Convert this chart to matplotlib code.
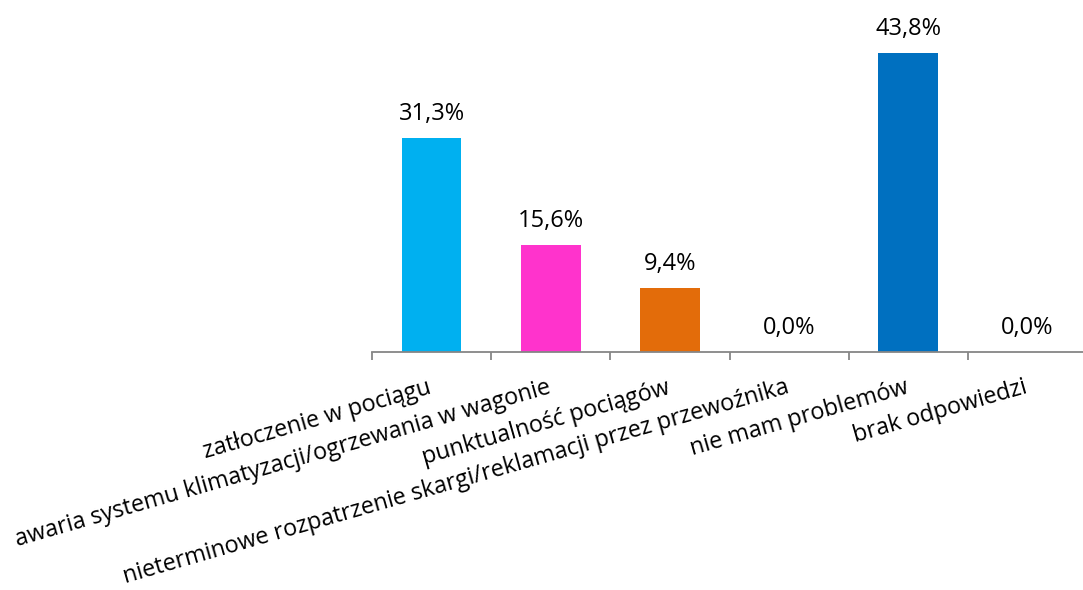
import matplotlib
matplotlib.use("Agg")
import matplotlib.pyplot as plt
import numpy as np

categories = [
    "zatłoczenie w pociągu",
    "awaria systemu klimatyzacji/ogrzewania w wagonie",
    "punktualność pociągów",
    "nieterminowe rozpatrzenie skargi/reklamacji przez przewoźnika",
    "nie mam problemów",
    "brak odpowiedzi",
]
values = [31.3, 15.6, 9.4, 0.0, 43.8, 0.0]
value_labels = ["31,3%", "15,6%", "9,4%", "0,0%", "43,8%", "0,0%"]
colors = ["#00B0F0", "#FF33CC", "#E36C0A", "#A5A5A5", "#0070C0", "#A5A5A5"]

plt.rcParams['font.family'] = ['Open Sans', 'DejaVu Sans']

W, H = 1083, 590
fig = plt.figure(figsize=(W / 100, H / 100), dpi=100)
ax = fig.add_axes([372 / W, (H - 352) / H, 715 / W, 341.6 / H])

x = np.arange(len(categories))
ax.bar(x, values, width=0.5, color=colors)
ax.set_xlim(-0.5, len(categories) - 0.5)
ax.set_ylim(0, 50)

for s in ["top", "right", "left"]:
    ax.spines[s].set_visible(False)
ax.spines["bottom"].set_color("#868686")
ax.spines["bottom"].set_linewidth(1.3)
ax.set_yticks([])
ax.set_xticks([])
ax.set_xticks(np.arange(-0.5, len(categories)), minor=True)
ax.tick_params(axis="x", which="minor", direction="out", length=6, width=1.3,
               color="#868686", labelbottom=False)

for i, (v, lab) in enumerate(zip(values, value_labels)):
    ax.annotate(lab, xy=(i, v), xytext=(0, 13), textcoords="offset points",
                ha="center", va="baseline", fontsize=17, color="#000000")

for i, cat in enumerate(categories):
    ax.annotate(cat, xy=(i, 0), xycoords=("data", "axes fraction"),
                xytext=(1, -41), textcoords="offset pixels",
                ha="right", va="baseline", rotation=16, rotation_mode="anchor",
                fontsize=16.8, color="#000000", annotation_clip=False)

fig.savefig("out.png", dpi=100)
